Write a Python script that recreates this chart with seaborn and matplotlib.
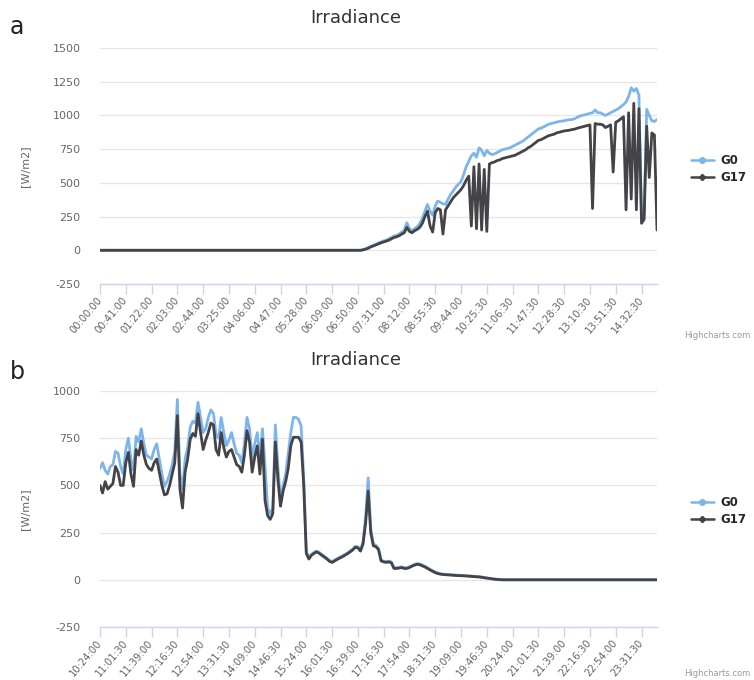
import numpy as np
import pandas as pd
import matplotlib
matplotlib.use("Agg")
import matplotlib.pyplot as plt
import seaborn as sns
from matplotlib.lines import Line2D

# ---------------- data ----------------
top_labels = ["00:00:00", "00:41:00", "01:22:00", "02:03:00", "02:44:00", "03:25:00",
              "04:06:00", "04:47:00", "05:28:00", "06:09:00", "06:50:00", "07:31:00",
              "08:12:00", "08:55:30", "09:44:00", "10:25:30", "11:06:30", "11:47:30",
              "12:28:30", "13:10:30", "13:51:30", "14:32:30"]
bot_labels = ["10:24:00", "11:01:30", "11:39:00", "12:16:30", "12:54:00", "13:31:30",
              "14:09:00", "14:46:30", "15:24:00", "16:01:30", "16:39:00", "17:16:30",
              "17:54:00", "18:31:30", "19:09:00", "19:46:30", "20:24:00", "21:01:30",
              "21:39:00", "22:16:30", "22:54:00", "23:31:30"]

g0_top = [0] * 101 + [
    0, 5, 12, 20, 30, 38, 45, 55, 62, 70,
    75, 85, 95, 105, 110, 120, 135, 150, 205, 160,
    145, 160, 175, 200, 235, 290, 340, 290, 260, 330,
    365, 355, 345, 340, 380, 415, 440, 470, 490, 510,
    560, 620, 660, 700, 720, 690, 760, 740, 700, 740,
    720, 710, 715, 725, 735, 745, 750, 755, 760, 770,
    780, 790, 800, 810, 825, 840, 855, 870, 885, 900,
    905, 915, 925, 935, 940, 945, 950, 955, 958, 960,
    965, 968, 970, 975, 985, 995, 1000, 1005, 1010, 1015,
    1020, 1040, 1020, 1020, 1010, 1000, 1010, 1020, 1030, 1040,
    1050, 1065, 1080, 1100, 1140, 1205, 1180, 1200, 1150, 230,
    260, 1045, 1000, 960, 955, 970]
g17_top = [0] * 101 + [
    0, 3, 8, 15, 25, 32, 40, 48, 55, 62,
    68, 75, 85, 95, 100, 108, 120, 130, 170, 140,
    130, 145, 155, 170, 200, 250, 290, 180, 135, 280,
    310, 300, 120, 300, 330, 360, 390, 410, 430, 450,
    480, 520, 550, 180, 620, 160, 640, 150, 600, 140,
    640, 650, 655, 665, 670, 680, 685, 690, 695, 700,
    705, 715, 725, 735, 745, 760, 770, 785, 800, 815,
    820, 830, 840, 850, 855, 860, 870, 875, 880, 885,
    888, 890, 895, 898, 905, 910, 915, 920, 925, 930,
    310, 940, 935, 935, 930, 910, 920, 930, 580, 950,
    960, 975, 990, 300, 1020, 380, 1090, 300, 1050, 200,
    230, 920, 540, 870, 855, 150]

g0_bot = [
    590, 620, 580, 560, 600, 610, 680, 670, 600, 560,
    690, 750, 640, 580, 760, 730, 800, 720, 660, 650,
    640, 690, 720, 640, 560, 495, 520, 560, 610, 680,
    955, 560, 480, 640, 700, 810, 840, 830, 940, 860,
    780, 800, 860, 900, 880, 770, 750, 860, 780, 710,
    740, 780, 720, 670, 660, 620, 720, 860, 800, 640,
    720, 780, 650, 800, 600, 380, 350, 380, 820, 600,
    420, 500, 560, 670, 780, 860, 860, 850, 815, 540,
    150, 120, 135, 145, 152, 145, 135, 125, 115, 103,
    97, 105, 113, 120, 127, 135, 143, 153, 163, 177,
    175, 158, 200, 330, 540, 270, 190, 182, 166, 105,
    99, 96, 99, 94, 64, 64, 66, 69, 64, 64,
    69, 76, 82, 86, 84, 78, 72, 64, 56, 48,
    41, 36, 32, 30, 29, 28, 27, 26, 25, 24,
    24, 23, 22, 21, 20, 19, 18, 17, 15, 12,
    10, 8, 6, 4, 2, 1] + [0] * 61
g17_bot = [
    500, 460, 520, 480, 495, 510, 600, 570, 500, 500,
    620, 675, 560, 495, 690, 660, 735, 660, 610, 590,
    580, 620, 640, 570, 500, 450, 455, 500, 560, 620,
    870, 480, 380, 570, 640, 745, 775, 760, 880, 780,
    690, 740, 780, 830, 820, 690, 660, 780, 700, 650,
    680, 690, 650, 610, 600, 570, 660, 790, 730, 570,
    650, 710, 560, 745, 420, 340, 320, 350, 730, 530,
    390, 470, 520, 590, 710, 755, 755, 755, 730, 500,
    140, 110, 130, 140, 148, 140, 130, 120, 110, 98,
    92, 100, 108, 115, 122, 130, 138, 148, 158, 172,
    170, 152, 190, 300, 470, 250, 180, 175, 160, 100,
    95, 92, 95, 90, 60, 60, 62, 65, 60, 60,
    65, 72, 78, 82, 80, 74, 68, 60, 52, 45,
    38, 33, 30, 28, 27, 26, 25, 24, 23, 22,
    22, 21, 20, 19, 18, 17, 16, 15, 13, 11,
    9, 7, 5, 3, 2, 1] + [0] * 61

series_names = ["G0", "G17"]
colors = {"G0": "#7cb5ec", "G17": "#434348"}

# ---------------- figure ----------------
sns.set_theme(style="white")
plt.rcParams['font.family'] = ['DejaVu Sans']

W, H = 754, 680
fig = plt.figure(figsize=(W / 100, H / 100), dpi=100)
fig.patch.set_facecolor("white")


def fx(px):
    return px / W


def fy(py):
    return 1 - py / H


ax1 = fig.add_axes([fx(100), fy(284), fx(657) - fx(100), 236 / H])
ax2 = fig.add_axes([fx(100), fy(627), fx(657) - fx(100), 236 / H])


def draw(ax, g0, g17, labels, yticks, ylim, legend_y):
    n = len(g0)
    idx = np.arange(n)
    df = pd.DataFrame({
        "idx": np.concatenate([idx, idx]),
        "value": list(g0) + list(g17),
        "series": ["G0"] * n + ["G17"] * len(g17),
    })
    sns.lineplot(data=df, x="idx", y="value", hue="series", hue_order=series_names,
                 palette=colors, estimator=None, linewidth=2.0, ax=ax, legend=False)
    ax.set_xlim(0, n - 1)
    ax.set_ylim(*ylim)
    ax.set_yticks(yticks)
    ax.set_yticklabels([str(v) for v in yticks])
    ax.grid(axis="y", color="#e6e6e6", linewidth=1)
    ax.grid(axis="x", visible=False)
    ticks = list(range(0, n, 10))[:len(labels)]
    ax.set_xticks(ticks)
    ax.set_xticklabels(labels, rotation=50, ha="right", va="center",
                       rotation_mode="anchor")
    ax.tick_params(axis="x", length=7, width=1, color="#ccd6eb", direction="out",
                   labelsize=7.2, labelcolor="#666666", pad=3, bottom=True)
    ax.tick_params(axis="y", length=0, pad=14, labelsize=8, labelcolor="#666666")
    for s in ["left", "right", "top"]:
        ax.spines[s].set_visible(False)
    ax.spines["bottom"].set_color("#ccd6eb")
    ax.spines["bottom"].set_linewidth(1)
    ax.set_xlabel("")
    ax.set_ylabel("")
    handles = [
        Line2D([], [], color=colors["G0"], lw=1.8, marker="o", markersize=4),
        Line2D([], [], color=colors["G17"], lw=1.8, marker="D", markersize=3.2),
    ]
    ax.legend(handles, series_names, loc="center left",
              bbox_to_anchor=(fx(680), fy(legend_y)), bbox_transform=fig.transFigure,
              frameon=False, handlelength=2.0, handletextpad=0.5, labelspacing=0.3,
              prop={"weight": "bold", "size": 8.5})


draw(ax1, g0_top, g17_top, top_labels, [-250, 0, 250, 500, 750, 1000, 1250, 1500],
     (-250, 1500), 169)
draw(ax2, g0_bot, g17_bot, bot_labels, [-250, 0, 250, 500, 750, 1000],
     (-250, 1000), 511)

# titles, panel letters, axis labels, credits
for ty, ly, letter, cy, yl in [(18, 27, "a", 335, 166), (360, 372, "b", 673, 509)]:
    fig.text(fx(356), fy(ty), "Irradiance", ha="center", va="center",
             fontsize=13, color="#333333")
    fig.text(fx(10), fy(ly), letter, ha="left", va="center", fontsize=17,
             color="#222222")
    fig.text(fx(750), fy(cy), "Highcharts.com", ha="right", va="center",
             fontsize=6, color="#999999")
    fig.text(fx(25), fy(yl), "[W/m2]", ha="center", va="center", rotation=90,
             fontsize=8, color="#666666")

fig.savefig("out.png", dpi=100, facecolor="white")
